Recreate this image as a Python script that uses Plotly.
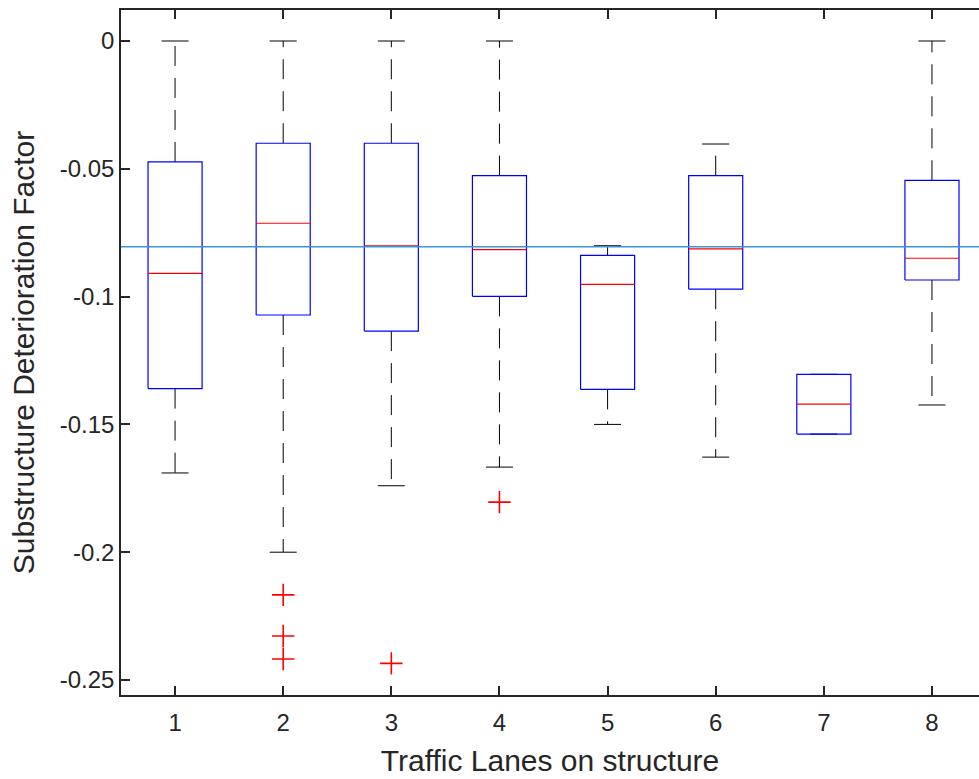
import plotly.graph_objects as go

# ---- data ----
lanes = [1, 2, 3, 4, 5, 6, 7, 8]
upper_whisker = [0.0, 0.0, 0.0, 0.0, -0.0801, -0.0403, -0.1304, 0.0]
q3 = [-0.0473, -0.0400, -0.0400, -0.0527, -0.0839, -0.0527, -0.1304, -0.0545]
median = [-0.0909, -0.0713, -0.0801, -0.0816, -0.0952, -0.0813, -0.1421, -0.0850]
q1 = [-0.1360, -0.1072, -0.1135, -0.0999, -0.1363, -0.0971, -0.1538, -0.0935]
lower_whisker = [-0.1690, -0.2000, -0.1740, -0.1667, -0.1500, -0.1628, -0.1538, -0.1424]
outlier_lanes = [2, 2, 2, 3, 4]
outlier_values = [-0.2167, -0.2328, -0.2418, -0.2435, -0.1804]
ref_value = -0.0805

y_tickvals = [0, -0.05, -0.1, -0.15, -0.2, -0.25]
y_ticktext = ["0", "-0.05", "-0.1", "-0.15", "-0.2", "-0.25"]
x_tickvals = lanes
x_ticktext = [str(v) for v in lanes]

x_title = "Traffic Lanes on structure"
y_title = "Substructure Deterioration Factor"

# ---- style constants ----
BOX_HALF = 0.25
CAP_HALF = 0.125
FONT = "Liberation Sans, Arial, sans-serif"
AX_COLOR = "#262626"
TICK_SIZE = 24
TITLE_SIZE = 30

fig = go.Figure()

# whiskers (dashed, from box edge outward)
wx, wy = [], []
for i, x in enumerate(lanes):
    if upper_whisker[i] > q3[i]:
        wx += [x, x, None]
        wy += [q3[i], upper_whisker[i], None]
    if lower_whisker[i] < q1[i]:
        wx += [x, x, None]
        wy += [q1[i], lower_whisker[i], None]
fig.add_trace(go.Scatter(x=wx, y=wy, mode="lines",
                         line=dict(color="black", width=1, dash="20px,12px"),
                         hoverinfo="skip", showlegend=False))

# caps
cx, cy = [], []
for i, x in enumerate(lanes):
    for v in (upper_whisker[i], lower_whisker[i]):
        cx += [x - CAP_HALF, x + CAP_HALF, None]
        cy += [v, v, None]
fig.add_trace(go.Scatter(x=cx, y=cy, mode="lines",
                         line=dict(color="black", width=1),
                         hoverinfo="skip", showlegend=False))

# boxes
bx, by = [], []
for i, x in enumerate(lanes):
    bx += [x - BOX_HALF, x + BOX_HALF, x + BOX_HALF, x - BOX_HALF, x - BOX_HALF, None]
    by += [q1[i], q1[i], q3[i], q3[i], q1[i], None]
fig.add_trace(go.Scatter(x=bx, y=by, mode="lines",
                         line=dict(color="#0000ff", width=1.2),
                         hoverinfo="skip", showlegend=False))

# medians
mx, my = [], []
for i, x in enumerate(lanes):
    mx += [x - BOX_HALF, x + BOX_HALF, None]
    my += [median[i], median[i], None]
fig.add_trace(go.Scatter(x=mx, y=my, mode="lines",
                         line=dict(color="#ff0000", width=1.2),
                         hoverinfo="skip", showlegend=False))

# outliers
fig.add_trace(go.Scatter(x=outlier_lanes, y=outlier_values, mode="markers",
                         marker=dict(symbol="cross-thin", size=16,
                                     line=dict(color="#ff0000", width=1.6)),
                         hoverinfo="skip", showlegend=False))

# reference line
fig.add_shape(type="line", xref="paper", yref="y", x0=0, x1=1,
              y0=ref_value, y1=ref_value,
              line=dict(color="#3b94d9", width=1.4))

fig.update_layout(
    width=979, height=779,
    margin=dict(l=121, r=0, t=10, b=84),
    paper_bgcolor="white", plot_bgcolor="white",
    font=dict(family=FONT, color=AX_COLOR, size=TICK_SIZE),
    showlegend=False,
)
fig.update_xaxes(
    range=[0.5, 8.435],
    tickmode="array", tickvals=x_tickvals, ticktext=x_ticktext,
    ticks="inside", ticklen=9, tickwidth=1.5, tickcolor=AX_COLOR,
    showline=True, linecolor=AX_COLOR, linewidth=1.5, mirror="ticks",
    showgrid=False, zeroline=False, ticklabelstandoff=5,
    tickfont=dict(size=TICK_SIZE, color=AX_COLOR, family=FONT),
    title=dict(text=x_title, font=dict(size=TITLE_SIZE, color=AX_COLOR, family=FONT), standoff=15),
)
fig.update_yaxes(
    range=[-0.25587, 0.01213],
    tickmode="array", tickvals=y_tickvals, ticktext=y_ticktext,
    ticks="inside", ticklen=9, tickwidth=1.5, tickcolor=AX_COLOR,
    showline=True, linecolor=AX_COLOR, linewidth=1.5, mirror=False,
    showgrid=False, zeroline=False,
    tickfont=dict(size=TICK_SIZE, color=AX_COLOR, family=FONT),
    title=dict(text=y_title, font=dict(size=TITLE_SIZE, color=AX_COLOR, family=FONT), standoff=16),
)

fig.write_html("out.html")
